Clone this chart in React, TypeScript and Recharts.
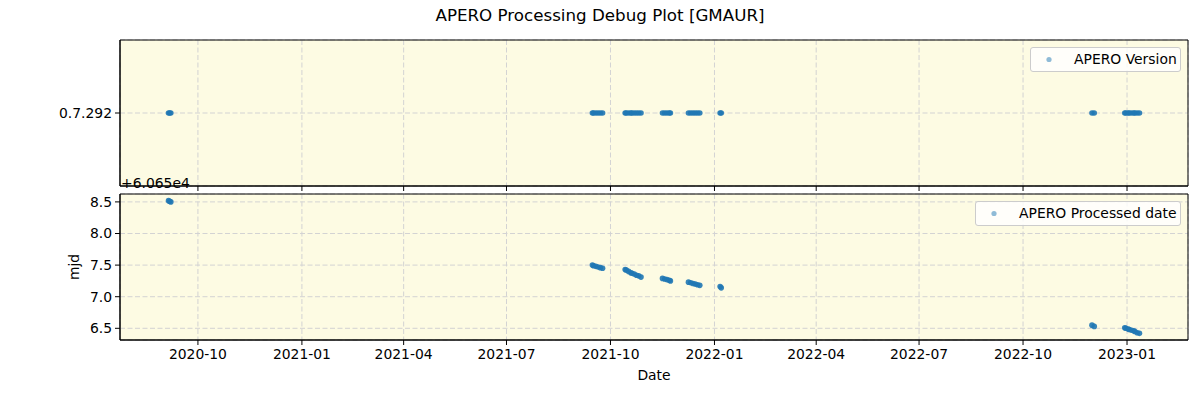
import { ScatterChart, Scatter, XAxis, YAxis, CartesianGrid, ReferenceArea } from "recharts";

// observation dates and the mjd at which each one was processed by APERO
const obsDates = [
  "2020-09-05", "2020-09-06", "2020-09-07",
  "2021-09-15", "2021-09-16", "2021-09-18", "2021-09-20", "2021-09-22", "2021-09-24",
  "2021-10-14", "2021-10-15", "2021-10-17", "2021-10-19", "2021-10-20", "2021-10-22", "2021-10-24", "2021-10-26", "2021-10-28",
  "2021-11-16", "2021-11-18", "2021-11-20", "2021-11-22", "2021-11-23",
  "2021-12-09", "2021-12-11", "2021-12-13", "2021-12-15", "2021-12-17", "2021-12-19",
  "2022-01-06", "2022-01-07",
  "2022-12-01", "2022-12-03",
  "2022-12-30", "2022-12-31", "2023-01-02", "2023-01-03", "2023-01-05", "2023-01-07", "2023-01-08", "2023-01-10", "2023-01-12",
];

const processedMjd = [
  60658.52, 60658.51, 60658.50,
  60657.50, 60657.49, 60657.48, 60657.47, 60657.46, 60657.45,
  60657.43, 60657.42, 60657.40, 60657.38, 60657.37, 60657.36, 60657.34, 60657.33, 60657.31,
  60657.29, 60657.28, 60657.27, 60657.26, 60657.25,
  60657.23, 60657.22, 60657.21, 60657.20, 60657.19, 60657.18,
  60657.16, 60657.14,
  60656.55, 60656.53,
  60656.51, 60656.50, 60656.49, 60656.48, 60656.47, 60656.46, 60656.45, 60656.43, 60656.42,
];

const versionLabels = ["0.7.292"];

const tickDates = [
  "2020-10-01", "2021-01-01", "2021-04-01", "2021-07-01", "2021-10-01",
  "2022-01-01", "2022-04-01", "2022-07-01", "2022-10-01", "2023-01-01",
];

const mjdTicks = [60656.5, 60657.0, 60657.5, 60658.0, 60658.5];
const mjdOffset = 60650;

const toTs = (s: string) => Date.parse(s + "T00:00:00Z");

const times = obsDates.map(toTs);
const tMin = Math.min(...times);
const tMax = Math.max(...times);
const tPad = (tMax - tMin) * 0.05;
const xDomain: [number, number] = [tMin - tPad, tMax + tPad];
const xTicks = tickDates.map(toTs);

const mMin = Math.min(...processedMjd);
const mMax = Math.max(...processedMjd);
const mPad = (mMax - mMin) * 0.05;
const yDomain: [number, number] = [mMin - mPad, mMax + mPad];

const versionData = times.map((t) => ({ t, v: 0 }));
const mjdData = times.map((t, i) => ({ t, m: processedMjd[i] }));

const BLUE = "#1f77b4";
const BG = "#fdfbe3";
const FONT = "DejaVu Sans, sans-serif";
const tickStyle = { fill: "#000", fontSize: 13.9 };

const fmtDate = (v: number) => new Date(v).toISOString().slice(0, 7);

const dot = (props: any) => (
  <circle cx={props.cx} cy={props.cy} r={2.8} fill={BLUE} fillOpacity={0.9} />
);

function LegendBox({ left, top, width, label }: { left: number; top: number; width: number; label: string }) {
  return (
    <div
      style={{
        position: "absolute",
        left,
        top,
        width,
        height: 25,
        boxSizing: "border-box",
        border: "1px solid #cccccc",
        borderRadius: 3,
        background: "rgba(255,255,255,0.8)",
        fontSize: 13.9,
        fontFamily: FONT,
      }}
    >
      <svg width={30} height={23} style={{ position: "absolute", left: 4, top: 0 }}>
        <circle cx={14} cy={11.5} r={2.6} fill={BLUE} fillOpacity={0.5} />
      </svg>
      <span style={{ position: "absolute", left: 43, top: 3, whiteSpace: "nowrap" }}>{label}</span>
    </div>
  );
}

export default function App() {
  return (
    <div
      style={{
        position: "absolute",
        left: 0,
        top: 0,
        width: 1200,
        height: 400,
        background: "#fff",
        fontFamily: FONT,
        overflow: "hidden",
      }}
    >
      <div style={{ position: "absolute", left: 0, top: 5, width: 1200, textAlign: "center", fontSize: 16.7 }}>
        APERO Processing Debug Plot [GMAUR]
      </div>

      <div style={{ position: "absolute", left: 0, top: 0 }}>
        <ScatterChart width={1200} height={200} margin={{ top: 40, right: 12, bottom: 0, left: 0 }}>
          <CartesianGrid stroke="#d3d3d3" strokeDasharray="5 2.5" fill={BG} />
          <XAxis
            type="number"
            dataKey="t"
            domain={xDomain}
            ticks={xTicks}
            allowDataOverflow
            height={14}
            tickSize={5}
            tickFormatter={() => ""}
            axisLine={{ stroke: "#000" }}
            tickLine={{ stroke: "#000" }}
          />
          <YAxis
            type="number"
            dataKey="v"
            domain={[-1, 1]}
            ticks={[0]}
            width={120}
            tickSize={5}
            tickMargin={3}
            tick={tickStyle}
            tickFormatter={() => versionLabels[0]}
            axisLine={{ stroke: "#000" }}
            tickLine={{ stroke: "#000" }}
          />
          <ReferenceArea x1={xDomain[0]} x2={xDomain[1]} y1={-1} y2={1} fill="none" stroke="#000" strokeWidth={1} />
          <Scatter data={versionData} shape={dot} isAnimationActive={false} />
        </ScatterChart>
      </div>

      <div style={{ position: "absolute", left: 0, top: 180 }}>
        <ScatterChart width={1200} height={220} margin={{ top: 14, right: 12, bottom: 0, left: 0 }}>
          <CartesianGrid stroke="#d3d3d3" strokeDasharray="5 2.5" fill={BG} />
          <XAxis
            type="number"
            dataKey="t"
            domain={xDomain}
            ticks={xTicks}
            allowDataOverflow
            height={60}
            tickSize={5}
            tickMargin={4}
            tick={tickStyle}
            tickFormatter={fmtDate}
            axisLine={{ stroke: "#000" }}
            tickLine={{ stroke: "#000" }}
            label={{ value: "Date", position: "insideBottom", offset: 20, fill: "#000", fontSize: 13.9 }}
          />
          <YAxis
            type="number"
            dataKey="m"
            domain={yDomain}
            ticks={mjdTicks}
            allowDataOverflow
            width={120}
            tickSize={5}
            tickMargin={3}
            tick={tickStyle}
            tickFormatter={(v: number) => (v - mjdOffset).toFixed(1)}
            axisLine={{ stroke: "#000" }}
            tickLine={{ stroke: "#000" }}
            label={(p: any) => (
              <text
                x={75}
                y={p.viewBox.y + p.viewBox.height / 2}
                transform={`rotate(-90 75 ${p.viewBox.y + p.viewBox.height / 2})`}
                textAnchor="middle"
                dominantBaseline="middle"
                fontSize={13.9}
                fill="#000"
              >
                mjd
              </text>
            )}
          />
          <ReferenceArea x1={xDomain[0]} x2={xDomain[1]} y1={yDomain[0]} y2={yDomain[1]} fill="none" stroke="#000" strokeWidth={1} />
          <Scatter data={mjdData} shape={dot} isAnimationActive={false} />
        </ScatterChart>
      </div>

      <div style={{ position: "absolute", left: 121, top: 175, fontSize: 13.9, lineHeight: "16px" }}>+6.065e4</div>

      <LegendBox left={1030} top={47} width={151} label="APERO Version" />
      <LegendBox left={975} top={201} width={206} label="APERO Processed date" />
    </div>
  );
}
